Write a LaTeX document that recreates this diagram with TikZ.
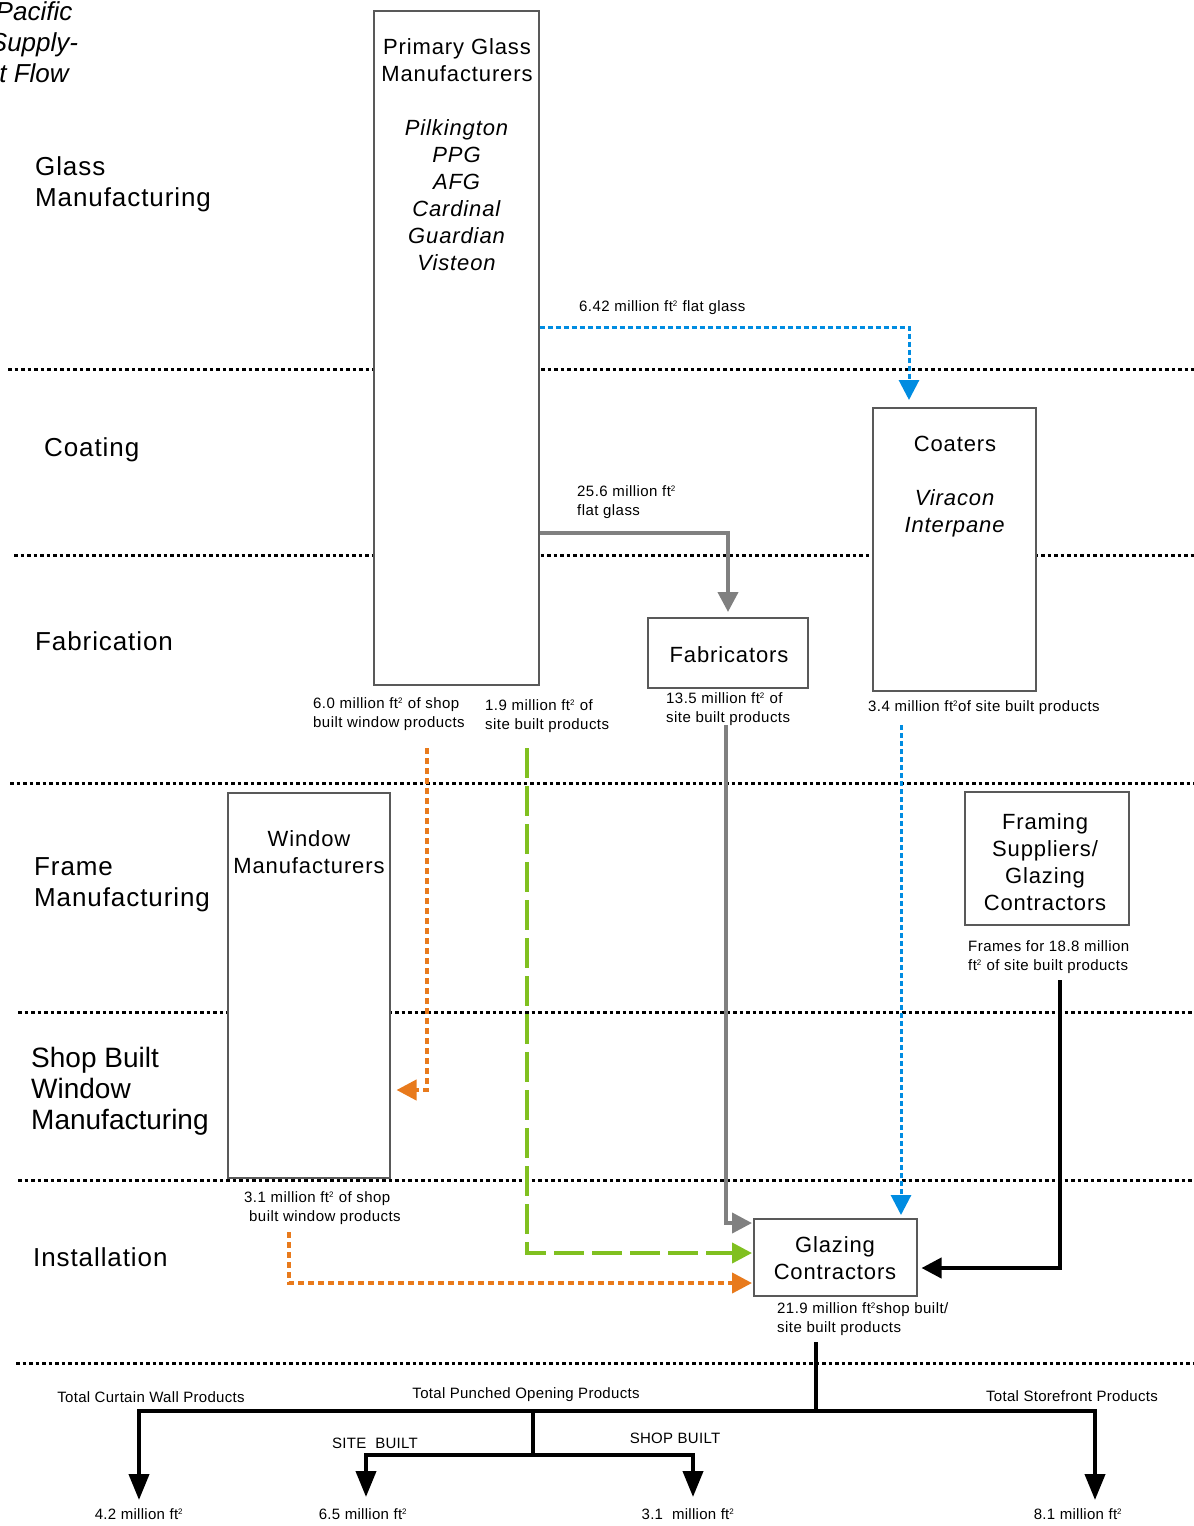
\documentclass[tikz,border=0pt]{standalone}
\usepackage{fontspec}
\usepackage{tikz}
\usepackage{xcolor}
\usetikzlibrary{arrows.meta}
\setmainfont{Liberation Sans}
\definecolor{flowblue}{RGB}{0,140,225}
\definecolor{floworange}{RGB}{232,122,28}
\definecolor{flowgreen}{RGB}{128,192,32}
\definecolor{flowgray}{RGB}{128,128,128}
\newcommand{\ftsq}{ft\textsuperscript{\fontsize{8}{8}\selectfont 2}}

\begin{document}
\begin{tikzpicture}[x=1pt,y=-1pt,
    box/.style={draw=black!65,line width=1.5pt,fill=white,inner sep=0pt,anchor=north west},
    boxtxt/.style={font=\fontsize{22}{27}\selectfont\addfontfeature{LetterSpace=4},align=center,inner sep=0pt},
    stage/.style={font=\fontsize{26}{31}\selectfont\addfontfeature{LetterSpace=3.5},align=left,anchor=west,inner sep=0pt},
    note/.style={font=\fontsize{15}{19}\selectfont\addfontfeature{LetterSpace=3},align=left,anchor=west,inner sep=0pt},
    tot/.style={font=\fontsize{15}{19}\selectfont\addfontfeature{LetterSpace=2},inner sep=0pt},
    sep/.style={line width=3pt,dash pattern=on 3.5pt off 3pt},
    tip/.style={-{Triangle[width=20pt,length=20pt]}},
    bluedot/.style={tip,flowblue,line width=3pt,dash pattern=on 5pt off 3pt},
    orangedash/.style={tip,floworange,line width=4pt,dash pattern=on 6pt off 4pt},
    greendash/.style={tip,flowgreen,line width=4pt,dash pattern=on 30pt off 8pt},
    grayline/.style={tip,flowgray,line width=4pt},
    blackline/.style={tip,black,line width=4pt},
    treeline/.style={black,line width=4pt},
    treetip/.style={-{Triangle[width=20pt,length=26pt]},black,line width=4pt}]
  \useasboundingbox (0,0) rectangle (1194,1526);
  \draw [sep] (8,369) -- (1194,369);
  \draw [sep] (14,555) -- (1194,555);
  \draw [sep] (10,783) -- (1194,783);
  \draw [sep] (18,1012) -- (1194,1012);
  \draw [sep] (18,1180) -- (1194,1180);
  \draw [sep] (16,1363) -- (1194,1363);

  \node [font=\fontsize{26}{31}\selectfont\itshape,align=center,inner sep=0pt] (title) at (34,42) {Pacific\\Supply-\\t Flow};
  \node [stage] (sglass) at (35,184) {Glass\\Manufacturing};
  \node [stage] (scoat) at (44,450) {Coating};
  \node [stage] (sfab) at (35,641) {Fabrication};
  \node [stage] (sframe) at (34,885) {Frame\\Manufacturing};
  \node [stage,font=\fontsize{28}{31}\selectfont] (sshop) at (31,1091) {Shop Built\\Window\\Manufacturing};
  \node [stage] (sinst) at (33,1257) {Installation};

  \node [box,minimum width=165pt,minimum height=674pt] (pgm) at (373,10) {};
  \node [box,minimum width=163pt,minimum height=283pt] (coat) at (872,407) {};
  \node [box,minimum width=160pt,minimum height=70pt] (fab) at (647,617) {};
  \node [box,minimum width=162pt,minimum height=385pt] (win) at (227,792) {};
  \node [box,minimum width=164pt,minimum height=133pt] (frm) at (964,791) {};
  \node [box,minimum width=163pt,minimum height=77pt] (glz) at (753,1218) {};

  \node [boxtxt] (pgmtxt) at (457,155) {Primary Glass\\Manufacturers\\[27pt]\textit{Pilkington}\\\textit{PPG}\\\textit{AFG}\\\textit{Cardinal}\\\textit{Guardian}\\\textit{Visteon}};
  \node [boxtxt] (coattxt) at (955,487) {Coaters\\[27pt]\textit{Viracon}\\\textit{Interpane}};
  \node [boxtxt] (fabtxt) at (729,655) {Fabricators};
  \node [boxtxt] (wintxt) at (309,852) {Window\\Manufacturers};
  \node [boxtxt] (frmtxt) at (1045,862) {Framing\\Suppliers/\\Glazing\\Contractors};
  \node [boxtxt] (glztxt) at (835,1258) {Glazing\\Contractors};

  \node [note] (lflat) at (579,308) {6.42 million \ftsq{} flat glass};
  \node [note] (lfab) at (577,502) {25.6 million \ftsq\\flat glass};
  \node [note] (lshop) at (313,714) {6.0 million \ftsq{} of shop\\built window products};
  \node [note] (lsite) at (485,716) {1.9 million \ftsq{} of\\site built products};
  \node [note] (lfabout) at (666,709) {13.5 million \ftsq{} of\\site built products};
  \node [note] (lcoat) at (868,708) {3.4 million \ftsq{}of site built products};
  \node [note] (lfrm) at (968,957) {Frames for 18.8 million\\\ftsq{} of site built products};
  \node [note] (lwin) at (244,1208) {3.1 million \ftsq{} of shop\\\hspace*{5pt}built window products};
  \node [note] (lglz) at (777,1319) {21.9 million \ftsq{}shop built/\\site built products};

  \coordinate (cA) at (909,327);
  \coordinate (cB) at (728,533);
  \coordinate (oA) at (427,748);
  \coordinate (oB) at (427,1090);
  \coordinate (gA) at (527,748);
  \coordinate (gB) at (527,1253);
  \coordinate (hA) at (726,725);
  \coordinate (hB) at (726,1223);
  \coordinate (iA) at (901,725);
  \coordinate (jA) at (1060,980);
  \coordinate (jB) at (1060,1268);
  \coordinate (kA) at (289,1232);
  \coordinate (kB) at (289,1283);
  \draw [bluedot] (pgm.east |- cA) -| ([yshift=7pt]coat.north -| cA);
  \draw [grayline] (pgm.east |- cB) -| ([yshift=5pt]fab.north -| cB);
  \draw [orangedash] (oA) -- (oB) -- ([xshift=6pt]win.east |- oB);
  \draw [greendash] (gA) |- ([xshift=-1pt]glz.west |- gB);
  \draw [grayline] (hA) |- ([xshift=-1pt]glz.west |- hB);
  \draw [bluedot] (iA) -- ([yshift=3pt]iA |- glz.north);
  \draw [blackline] (jA) |- ([xshift=4pt]glz.east |- jB);
  \draw [orangedash] (kA) |- ([xshift=-1pt]glz.west |- kB);

  \node [tot] (tcw) at (151,1397) {Total Curtain Wall Products};
  \node [tot] (tpo) at (526,1395) {Total Punched Opening Products};
  \node [tot] (tsf) at (1072,1396) {Total Storefront Products};
  \node [tot] (tsite) at (375,1443) {SITE\ \ BUILT};
  \node [tot] (tshop) at (675,1438) {SHOP BUILT};
  \node [tot] (q42) at (139,1514) {4.2 million \ftsq};
  \node [tot] (q65) at (363,1514) {6.5 million \ftsq};
  \node [tot] (q31) at (688,1514) {3.1\ \ million \ftsq};
  \node [tot] (q81) at (1078,1514) {8.1 million \ftsq};

  \coordinate (tTop) at (816,1342);
  \coordinate (tJ) at (816,1411);
  \coordinate (tP) at (533,1411);
  \coordinate (tQ) at (533,1455);
  \coordinate (f1) at (139,1500);
  \coordinate (f2) at (366,1497);
  \coordinate (f3) at (693,1497);
  \coordinate (f4) at (1095,1500);
  \draw [treeline] (tTop) -- (tJ);
  \draw [treeline] (tP) -- (tQ);
  \draw [treetip] (tJ) -| (f1);
  \draw [treetip] (tJ) -| (f4);
  \draw [treetip] (tQ) -| (f2);
  \draw [treetip] (tQ) -| (f3);
\end{tikzpicture}
\end{document}
